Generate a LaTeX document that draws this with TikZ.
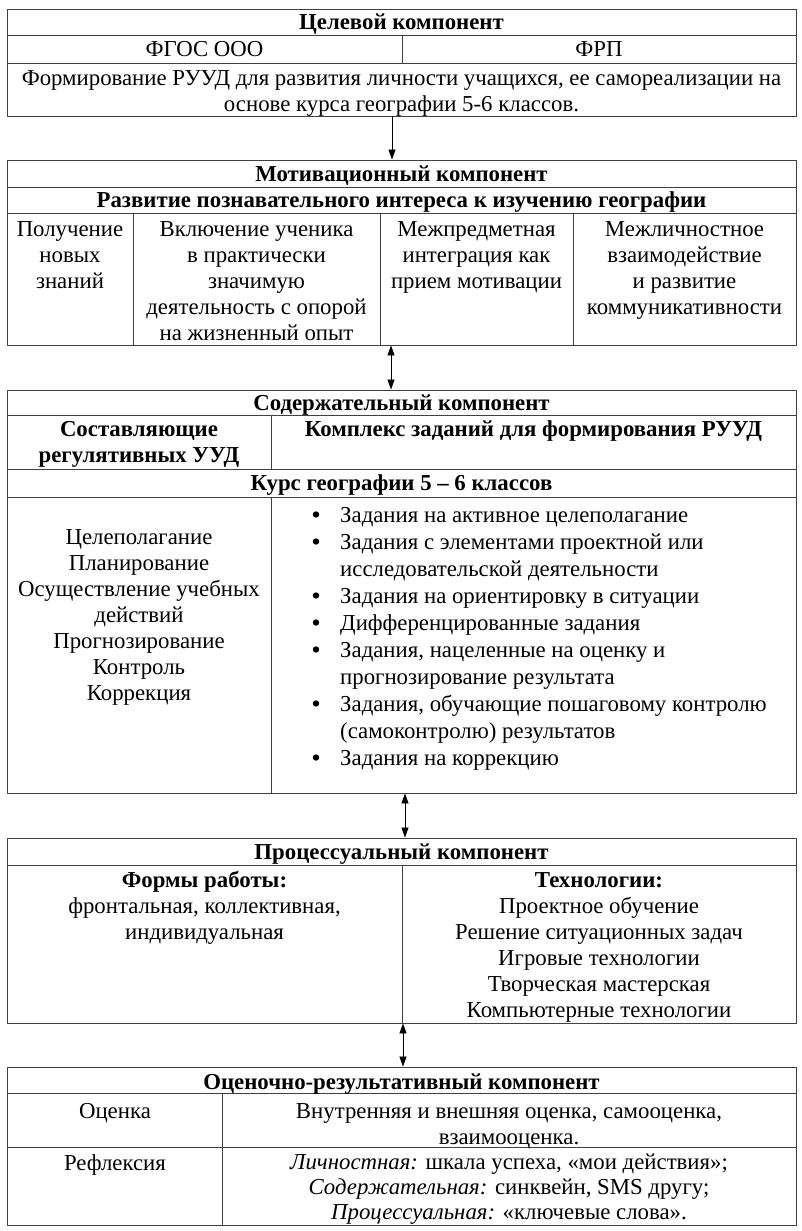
\documentclass[tikz,border=0pt]{standalone}
\usepackage{fontspec}
\setmainfont{Liberation Serif}
\usetikzlibrary{arrows.meta}
\begin{document}
\begin{tikzpicture}[x=1pt,y=-1pt,
  font=\fontsize{22.8}{26}\selectfont,
  box/.style={draw=black!75, line width=0.9pt, inner sep=0pt, minimum width=789pt},
  grid/.style={draw=black!75, line width=0.9pt},
  txt/.style={inner sep=0pt, anchor=north, align=center},
  dot/.style={fill=black},
  arr/.style={draw=black, line width=0.8pt, -{Triangle[length=10pt,width=7pt]}},
  darr/.style={draw=black, line width=0.8pt, {Triangle[length=10pt,width=7pt]}-{Triangle[length=10pt,width=7pt]}}]
\useasboundingbox (0,0) rectangle (801,1231);
\fill[white] (0,0) rectangle (801,1231);
% boxes
\node[box, minimum height=107pt] (b1) at (401.5,62.5) {};
\node[box, minimum height=185pt] (b2) at (401.5,252.5) {};
\node[box, minimum height=403pt] (b3) at (401.5,591.5) {};
\node[box, minimum height=185pt] (b4) at (401.5,930.5) {};
\node[box, minimum height=158pt] (b5) at (401.5,1146) {};
% grid of box 1
\draw[grid] (7,35) -- (796,35);
\draw[grid] (7,63) -- (796,63);
\draw[grid] (402,35) -- (402,63);
% grid of box 2
\draw[grid] (7,187) -- (796,187);
\draw[grid] (7,213) -- (796,213);
\draw[grid] (133,213) -- (133,345);
\draw[grid] (380,213) -- (380,345);
\draw[grid] (573,213) -- (573,345);
% grid of box 3
\draw[grid] (7,415) -- (796,415);
\draw[grid] (7,469) -- (796,469);
\draw[grid] (7,497) -- (796,497);
\draw[grid] (271,415) -- (271,469);
\draw[grid] (271,497) -- (271,793);
% grid of box 4
\draw[grid] (7,865) -- (796,865);
\draw[grid] (402,865) -- (402,1023);
% grid of box 5
\draw[grid] (7,1093) -- (796,1093);
\draw[grid] (7,1147) -- (796,1147);
\draw[grid] (222,1093) -- (222,1225);
% bullets
\foreach \by in {522,549,603,630,657,711,765}
  \fill[dot] (316,\by-7.5) circle[radius=3.2pt];
\begin{scope}[yshift=-1pt]
% box 1 texts
\node[txt] (t1) at (401.5,9.8) {\strut\textbf{Целевой компонент}};
\node[txt] (t2) at (204.5,36.8) {\strut ФГОС ООО};
\node[txt] (t3) at (599,36.8) {\strut ФРП};
\node[txt] (t4) at (401.5,65.8) {\strut Формирование РУУД для развития личности учащихся, ее самореализации на\\основе курса географии 5-6 классов.};
% box 2 texts
\node[txt] (m1) at (401.5,161.8) {\strut\textbf{Мотивационный компонент}};
\node[txt] (m2) at (401.5,187.8) {\strut\textbf{Развитие познавательного интереса к изучению географии}};
\node[txt] (m3) at (70,216.8) {\strut Получение\\новых\\знаний};
\node[txt] (m4) at (256.5,216.8) {\strut Включение ученика\\в практически\\значимую\\деятельность с опорой\\на жизненный опыт};
\node[txt] (m5) at (476.5,216.8) {\strut Межпредметная\\интеграция как\\прием мотивации};
\node[txt] (m6) at (684.5,216.8) {\strut Межличностное\\взаимодействие\\и развитие\\коммуникативности};
% box 3 texts
\node[txt] (s1) at (401.5,390.8) {\strut\textbf{Содержательный компонент}};
\node[txt, font=\bfseries\fontsize{22.8}{26}\selectfont] (s2) at (139,416.8) {\strut Составляющие\\регулятивных УУД};
\node[txt] (s3) at (533.5,416.8) {\strut\textbf{Комплекс заданий для формирования РУУД}};
\node[txt] (s4) at (401.5,470.8) {\strut\textbf{Курс географии 5 – 6 классов}};
\node[txt] (s5) at (139,524.8) {\strut Целеполагание\\Планирование\\Осуществление учебных\\действий\\Прогнозирование\\Контроль\\Коррекция};
\node[txt, anchor=north west, align=left, font=\fontsize{22.8}{27}\selectfont] (s6) at (340,502.8) {%
\strut Задания на активное целеполагание\\
Задания с элементами проектной или\\
исследовательской деятельности\\
Задания на ориентировку в ситуации\\
Дифференцированные задания\\
Задания, нацеленные на оценку и\\
прогнозирование результата\\
Задания, обучающие пошаговому контролю\\
(самоконтролю) результатов\\
Задания на коррекцию};
% box 4 texts
\node[txt] (p1) at (401.5,839.8) {\strut\textbf{Процессуальный компонент}};
\node[txt] (p2) at (204.5,867.8) {\strut\textbf{Формы работы:}\\фронтальная, коллективная,\\индивидуальная};
\node[txt] (p3) at (599,867.8) {\strut\textbf{Технологии:}\\Проектное обучение\\Решение ситуационных задач\\Игровые технологии\\Творческая мастерская\\Компьютерные технологии};
% box 5 texts
\node[txt] (o1) at (401.5,1069.8) {\strut\textbf{Оценочно-результативный компонент}};
\node[txt] (o2) at (115,1098.8) {\strut Оценка};
\node[txt] (o3) at (509,1098.8) {\strut Внутренняя и внешняя оценка, самооценка,\\взаимооценка.};
\node[txt] (o4) at (115,1150.8) {\strut Рефлексия};
\node[txt, font=\fontsize{22.8}{25}\selectfont] (o5) at (509,1150.8) {\strut\textit{Личностная:} шкала успеха, «мои действия»;\\\textit{Содержательная:} синквейн, SMS другу;\\\textit{Процессуальная:} «ключевые слова».};
\end{scope}
% connectors
\coordinate (a1) at (392,0);
\coordinate (a2) at (391,0);
\coordinate (a3) at (405,0);
\coordinate (a4) at (403,0);
\draw[arr] (b1.south -| a1) -- (b2.north -| a1);
\draw[darr] (b2.south -| a2) -- (b3.north -| a2);
\draw[darr] (b3.south -| a3) -- (b4.north -| a3);
\draw[darr] (b4.south -| a4) -- (b5.north -| a4);
\end{tikzpicture}
\end{document}
